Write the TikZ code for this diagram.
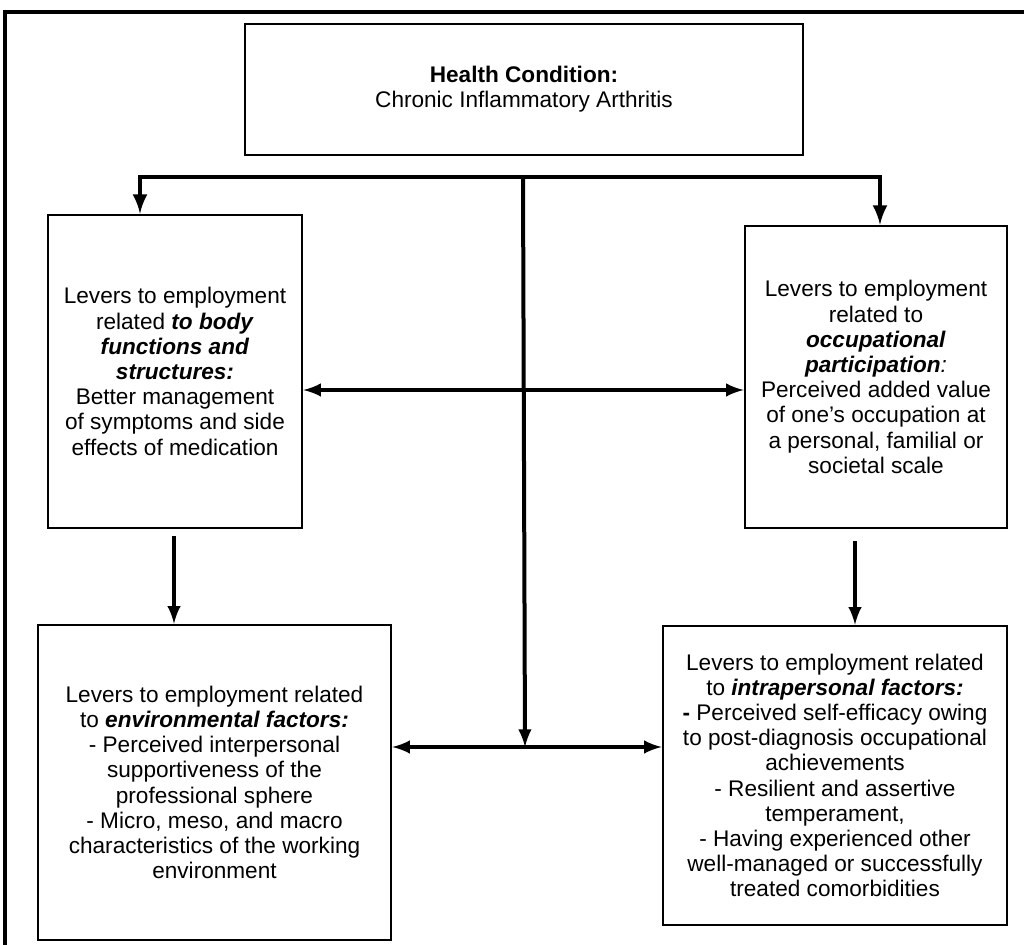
\documentclass[tikz,border=0pt]{standalone}
\usepackage{fontspec}
\setmainfont{Liberation Sans}
\usetikzlibrary{positioning}
\newcommand{\bi}[1]{\textbf{\textit{#1}}}
\begin{document}
\begin{tikzpicture}[x=0.5pt,y=-0.5pt,>=latex,
    levbox/.style={draw,line width=1.3pt,align=center,inner sep=2pt,
        font=\fontsize{11.3}{12.6}\selectfont},
    conn/.style={line width=2pt}]
    \useasboundingbox (0,0) rectangle (1024,945);
    % outer frame, cut by the page edge
    \draw[line width=2pt] (5,12) rectangle (1060,980);
    \node (hc) [levbox,minimum width=279pt,minimum height=65.5pt] at (524,89.5)
        {\textbf{Health Condition:}\\Chronic Inflammatory Arthritis};
    \node (bf) [levbox,minimum width=127pt,minimum height=156.5pt] at (175,371.5)
        {Levers to employment\\related \bi{to body}\\\bi{functions and}\\\bi{structures:}\\
         Better management\\of symptoms and side\\effects of medication};
    \node (op) [levbox,minimum width=131pt,minimum height=151pt] at (876,377)
        {Levers to employment\\related to\\\bi{occupational}\\\bi{participation}\textit{:}\\
         Perceived added value\\of one's occupation at\\a personal, familial or\\societal scale};
    \node (ev) [levbox,minimum width=176.5pt,minimum height=157.5pt] at (214.5,782.5)
        {Levers to employment related\\to \bi{environmental factors:}\\- Perceived interpersonal\\
         supportiveness of the\\professional sphere\\- Micro, meso, and macro\\
         characteristics of the working\\environment};
    \node (ip) [levbox,minimum width=172pt,minimum height=149.5pt] at (835,775.5)
        {Levers to employment related\\to \bi{intrapersonal factors:}\\\textbf{-} Perceived self-efficacy owing\\
         to post-diagnosis occupational\\achievements\\- Resilient and assertive\\temperament,\\
         - Having experienced other\\well-managed or successfully\\treated comorbidities};
    \coordinate (split) at (523,177);
    \coordinate (barl) at (140,177);
    \coordinate (barr) at (880,177);
    \coordinate (hub) at (525,747);
    \draw[conn,line width=2.3pt,<->] (barl |- bf.north) -- (barl) -- (barr) -- (barr |- op.north);
    \draw[conn,->] (split) -- (hub);
    \draw[conn,<->] (bf.east |- 0,390) -- (op.west |- 0,390);
    \draw[conn,<->] (ev.east |- hub) -- (ip.west |- hub);
    \draw[conn,->,shorten <=3.5pt] (bf.south -| 174,0) -- (ev.north -| 174,0);
    \draw[conn,->,shorten <=6pt] (op.south -| 855,0) -- (ip.north -| 855,0);
\end{tikzpicture}
\end{document}
